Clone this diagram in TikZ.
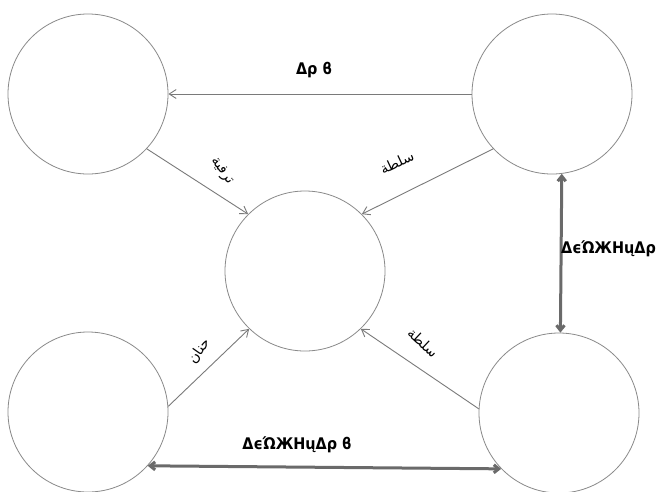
\documentclass[tikz,border=0pt]{standalone}
\usepackage{fontspec}
\setmainfont{DejaVu Sans}
\newfontfamily\arabicfont[Script=Arabic]{DejaVu Sans}
\newfontfamily\garbfont{DejaVu Sans Condensed}
\TeXXeTstate=1
\usetikzlibrary{arrows.meta}
\definecolor{circ}{HTML}{8A8A8A}
\definecolor{thin}{HTML}{7A7A7A}
\definecolor{thick}{HTML}{6A6A6A}
\begin{document}
\begin{tikzpicture}[x=1pt,y=-1pt,
  role/.style={circle,draw=circ,line width=0.8pt,minimum size=160pt,inner sep=0pt},
  thinarr/.style={draw=thin,line width=0.9pt,-{Straight Barb[length=7pt,width=9pt]}},
  thickarr/.style={draw=thick,line width=3pt,{Straight Barb[length=5pt,width=8pt]}-{Straight Barb[length=5pt,width=8pt]}},
  arlab/.style={font=\fontsize{14}{14}\arabicfont,inner sep=1pt},
  garb/.style={font=\fontsize{16}{16}\garbfont\bfseries,inner sep=1pt}]
\useasboundingbox (0,0) rectangle (656,491);
\fill[white] (0,0) rectangle (656,491);
\node[role] (tl) at (88,94) {};
\node[role] (tr) at (552,94) {};
\node[role] (c) at (305,271) {};
\node[role] (bl) at (88,412) {};
\node[role] (br) at (559,413) {};
% thin arrows
\draw[thinarr] (tr.west) -- (tl.east);
\draw[thinarr] (tl.-43) -- (c.135);
\draw[thinarr] (tr.-137) -- (c.45);
\draw[thinarr] (bl.4) -- (c.-134);
\draw[thinarr] (br.177) -- (c.-46);
% thick double arrows
\draw[thickarr] (tr.-83) -- (br.89);
\draw[thickarr] (bl.-42) -- (br.-136);
% labels
\node[garb] (l1) at (314,70) {Δρ ϐ};
\node[garb,anchor=west] (l2) at (560,249) {ΔϵΏЖHųΔρ ϐ};
\node[garb] (l3) at (297,445) {ΔϵΏЖHųΔρ ϐ};
\node[arlab,rotate=-55] (l4) at (222,171) {\beginR ترفية\endR};
\node[arlab,rotate=25] (l5) at (397,162) {\beginR سلطة\endR};
\node[arlab,rotate=55] (l6) at (199,351) {\beginR حنان\endR};
\node[arlab,rotate=-43] (l7) at (423,343) {\beginR سلطة\endR};
\end{tikzpicture}
\end{document}
